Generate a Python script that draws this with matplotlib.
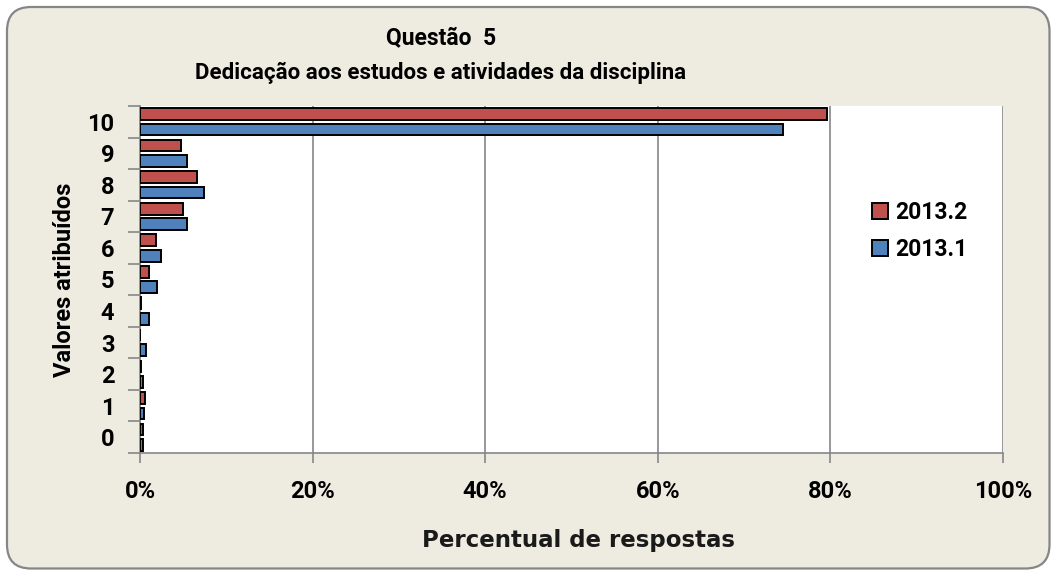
import matplotlib
matplotlib.use("Agg")
import matplotlib.pyplot as plt
import numpy as np
from matplotlib.patches import FancyBboxPatch, Patch
from matplotlib.transforms import IdentityTransform
from matplotlib.ticker import FixedLocator, PercentFormatter

categories = ["0", "1", "2", "3", "4", "5", "6", "7", "8", "9", "10"]
v_2013_2 = [0.3, 0.6, 0.1, 0.0, 0.1, 1.1, 1.9, 5.0, 6.6, 4.8, 79.6]
v_2013_1 = [0.3, 0.5, 0.3, 0.7, 1.1, 2.0, 2.4, 5.4, 7.4, 5.5, 74.5]
xticks = [0, 20, 40, 60, 80, 100]

RED = "#C0504D"
BLUE = "#4F81BD"
BG = "#EEECE1"
GRAY = "#868686"
FONT = "Roboto"

W, H = 1051, 570
fig = plt.figure(figsize=(W / 100, H / 100), dpi=100, facecolor="white")

# rounded chart-area border
border = FancyBboxPatch((7, 1.5), 1042.5, 561.5,
                        boxstyle="round,pad=0,rounding_size=24",
                        transform=IdentityTransform(), facecolor=BG,
                        edgecolor=GRAY, linewidth=1.6, zorder=-5)
fig.patches.append(border)

left, right, top, bottom = 140, 1003, 106, 453
ax = fig.add_axes([left / W, 1 - bottom / H, (right - left) / W, (bottom - top) / H])
ax.set_facecolor("white")
ax.set_zorder(1)

y = np.arange(len(categories))
h = 0.37
off = 0.245
ax.barh(y + off, v_2013_2, height=h, color=RED, edgecolor="black", linewidth=1.4, label="2013.2", zorder=3)
ax.barh(y - off, v_2013_1, height=h, color=BLUE, edgecolor="black", linewidth=1.4, label="2013.1", zorder=3)

ax.set_xlim(0, 100)
ax.set_ylim(-0.5, len(categories) - 0.5)

ax.set_xticks(xticks)
ax.xaxis.set_major_formatter(PercentFormatter(decimals=0))
ax.grid(axis="x", color=GRAY, linewidth=1.2, zorder=1)
ax.set_axisbelow(True)

ax.set_yticks(y)
ax.set_yticklabels(categories)
ax.yaxis.set_minor_locator(FixedLocator(np.arange(-0.5, len(categories), 1.0)))
ax.tick_params(axis="y", which="major", length=0, pad=18.5)
ax.tick_params(axis="y", which="minor", length=9, color=GRAY, width=1.2)
ax.tick_params(axis="x", which="major", length=7, color=GRAY, width=1.2, pad=12.5)

for lab in ax.get_yticklabels() + ax.get_xticklabels():
    lab.set_fontfamily(FONT)
    lab.set_fontweight("bold")
    lab.set_fontsize(17)

for s in ["top", "right"]:
    ax.spines[s].set_visible(False)
for s in ["left", "bottom"]:
    ax.spines[s].set_color(GRAY)
    ax.spines[s].set_linewidth(1.2)

ax.set_ylabel("Valores atribuídos", fontfamily=FONT, fontweight="bold", fontsize=17)
ax.yaxis.set_label_coords(-(left - 76) / (right - left), 0.5)

fig.text(578 / W, 1 - 540 / H, "Percentual de respostas", ha="center", va="center",
         fontfamily="DejaVu Sans", fontweight="bold", fontsize=16.5, color="#1a1a1a")

fig.text(441 / W, 1 - 38 / H, "Questão  5", ha="center", va="center",
         fontfamily=FONT, fontweight="bold", fontsize=16.5)
fig.text(441 / W, 1 - 73 / H, "Dedicação aos estudos e atividades da disciplina", ha="center", va="center",
         fontfamily=FONT, fontweight="bold", fontsize=16)

handles = [Patch(facecolor=RED, edgecolor="black", linewidth=1.4, label="2013.2"),
           Patch(facecolor=BLUE, edgecolor="black", linewidth=1.4, label="2013.1")]
leg = ax.legend(handles=handles, loc="center left", bbox_to_anchor=(872 / W, 1 - 231 / H),
                bbox_transform=fig.transFigure, frameon=False,
                prop={"family": FONT, "weight": "bold", "size": 16.5},
                handlelength=0.68, handleheight=0.68, handletextpad=0.35, labelspacing=0.6,
                borderpad=0, borderaxespad=0)

fig.savefig("out.png", dpi=100, facecolor="white")
